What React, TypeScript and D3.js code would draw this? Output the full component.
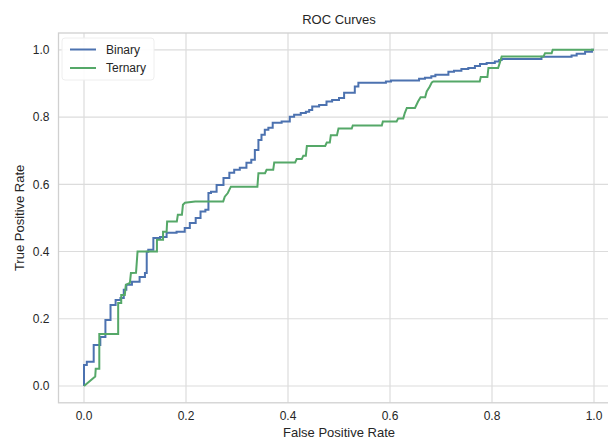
import React from "react";
import * as d3 from "d3";

// ROC points (false positive rate, true positive rate)
const binaryFpr = [
  0, 0, 0.011, 0.027, 0.037, 0.047, 0.057, 0.067, 0.076, 0.08, 0.086, 0.102, 0.116, 0.123, 0.123,
  0.129, 0.143, 0.155, 0.169, 0.194, 0.201, 0.214, 0.224, 0.233, 0.243, 0.245, 0.253, 0.267, 0.28,
  0.29, 0.299, 0.312, 0.325, 0.331, 0.339, 0.345, 0.351, 0.358, 0.365, 0.375, 0.4, 0.407, 0.417,
  0.433, 0.437, 0.446, 0.449, 0.473, 0.478, 0.495, 0.505, 0.515, 0.527, 0.535, 0.541, 0.59, 0.594,
  0.61, 0.655, 0.659, 0.678, 0.684, 0.694, 0.711, 0.718, 0.733, 0.747, 0.76, 0.773, 0.78, 0.799,
  0.812, 0.816, 0.822, 0.894, 0.9, 0.953, 0.959, 0.973, 0.992, 1.0,
];
const binaryTpr = [
  0, 0.0625, 0.072, 0.122, 0.146, 0.196, 0.241, 0.256, 0.262, 0.286, 0.301, 0.31, 0.324, 0.336, 0.399,
  0.405, 0.44, 0.443, 0.456, 0.459, 0.47, 0.485, 0.5, 0.519, 0.524, 0.574, 0.578, 0.598, 0.619,
  0.634, 0.643, 0.649, 0.664, 0.673, 0.702, 0.732, 0.747, 0.762, 0.768, 0.783, 0.787, 0.801, 0.807,
  0.812, 0.816, 0.821, 0.831, 0.836, 0.846, 0.851, 0.857, 0.872, 0.872, 0.891, 0.902, 0.902, 0.906,
  0.909, 0.909, 0.914, 0.917, 0.921, 0.926, 0.926, 0.935, 0.938, 0.943, 0.946, 0.952, 0.958, 0.961,
  0.965, 0.97, 0.973, 0.973, 0.979, 0.979, 0.983, 0.988, 0.994, 1.0,
];

const ternaryFpr = [
  0, 0.022, 0.023, 0.03, 0.03, 0.067, 0.067, 0.073, 0.073, 0.08, 0.082, 0.09, 0.092, 0.102, 0.105,
  0.143, 0.143, 0.155, 0.155, 0.162, 0.163, 0.182, 0.184, 0.192, 0.194, 0.198, 0.218, 0.273, 0.276,
  0.282, 0.288, 0.34, 0.342, 0.355, 0.358, 0.371, 0.373, 0.414, 0.417, 0.427, 0.43, 0.435, 0.437,
  0.473, 0.476, 0.482, 0.484, 0.496, 0.499, 0.525, 0.527, 0.584, 0.586, 0.613, 0.616, 0.626, 0.629,
  0.633, 0.649, 0.655, 0.66, 0.669, 0.672, 0.678, 0.682, 0.685, 0.776, 0.778, 0.791, 0.793, 0.812,
  0.816, 0.819, 0.901, 0.904, 0.917, 0.919, 1.0,
];
const ternaryTpr = [
  0, 0.028, 0.051, 0.051, 0.155, 0.155, 0.247, 0.247, 0.271, 0.271, 0.301, 0.307, 0.336, 0.337, 0.4,
  0.4, 0.435, 0.435, 0.459, 0.459, 0.489, 0.489, 0.509, 0.509, 0.539, 0.545, 0.549, 0.549, 0.563,
  0.574, 0.593, 0.593, 0.633, 0.633, 0.643, 0.643, 0.665, 0.665, 0.675, 0.675, 0.685, 0.685, 0.714,
  0.714, 0.724, 0.724, 0.746, 0.746, 0.766, 0.766, 0.775, 0.775, 0.787, 0.787, 0.796, 0.796, 0.812,
  0.827, 0.827, 0.846, 0.859, 0.859, 0.876, 0.891, 0.903, 0.906, 0.906, 0.919, 0.919, 0.946, 0.946,
  0.965, 0.98, 0.98, 0.99, 0.99, 1.0, 1.0,
];

const seriesNames = ["Binary", "Ternary"];
const seriesColors = ["#4c72b0", "#55a868"];
const ticks = [0, 0.2, 0.4, 0.6, 0.8, 1.0];

const W = 608;
const H = 441;
const FONT = "'Liberation Sans', Arial, sans-serif";

export default function App() {
  const x = d3.scaleLinear().domain([-0.05, 1.05]).range([58.5, 619.5]);
  const y = d3.scaleLinear().domain([-0.05, 1.05]).range([402.8, 33]);

  // binary is drawn as a staircase, ternary points already hold both corners
  const stepLine = d3
    .line<[number, number]>()
    .x((d) => x(d[0]))
    .y((d) => y(d[1]))
    .curve(d3.curveStep);
  const plainLine = d3
    .line<[number, number]>()
    .x((d) => x(d[0]))
    .y((d) => y(d[1]));

  const paths = [
    stepLine(binaryFpr.map((f, i) => [f, binaryTpr[i]] as [number, number])),
    plainLine(ternaryFpr.map((f, i) => [f, ternaryTpr[i]] as [number, number])),
  ];

  const [x0, x1] = x.range();
  const [y0, y1] = y.range();

  return (
    <svg
      width={W}
      height={H}
      style={{ position: "absolute", left: 0, top: 0, display: "block", background: "#fff" }}
      fontFamily={FONT}
    >
      {/* grid */}
      {ticks.map((t) => (
        <line key={"gx" + t} x1={x(t)} x2={x(t)} y1={y1} y2={y0} stroke="#dcdcdc" strokeWidth={1.2} />
      ))}
      {ticks.map((t) => (
        <line key={"gy" + t} x1={x0} x2={x1} y1={y(t)} y2={y(t)} stroke="#dcdcdc" strokeWidth={1.2} />
      ))}
      {/* frame */}
      <rect x={x0} y={y1} width={x1 - x0} height={y0 - y1} fill="none" stroke="#d0d0d0" strokeWidth={1.3} />

      {/* curves */}
      {paths.map((p, i) => (
        <path key={i} d={p ?? ""} fill="none" stroke={seriesColors[i]} strokeWidth={2} />
      ))}

      {/* tick labels */}
      {ticks.map((t) => (
        <text key={"tx" + t} x={x(t)} y={y0 + 17} textAnchor="middle" fontSize={12} fill="#262626">
          {t.toFixed(1)}
        </text>
      ))}
      {ticks.map((t) => (
        <text key={"ty" + t} x={x0 - 9} y={y(t) + 4.3} textAnchor="end" fontSize={12} fill="#262626">
          {t.toFixed(1)}
        </text>
      ))}

      {/* labels */}
      <text x={339} y={24} textAnchor="middle" fontSize={13} fill="#262626">
        ROC Curves
      </text>
      <text x={339} y={437} textAnchor="middle" fontSize={13} fill="#262626">
        False Positive Rate
      </text>
      <text
        transform={`translate(24,${(y0 + y1) / 2}) rotate(-90)`}
        textAnchor="middle"
        fontSize={13}
        fill="#262626"
      >
        True Positive Rate
      </text>

      {/* legend */}
      <rect x={62} y={38} width={92} height={42} rx={3} fill="#fff" fillOpacity={0.9} stroke="#eeeeee" />
      {seriesNames.map((name, i) => (
        <g key={name} transform={`translate(70,${49.5 + i * 18.5})`}>
          <line x1={0} x2={26} y1={0} y2={0} stroke={seriesColors[i]} strokeWidth={2} />
          <text x={36} y={4.3} fontSize={12} fill="#262626">
            {name}
          </text>
        </g>
      ))}
    </svg>
  );
}
